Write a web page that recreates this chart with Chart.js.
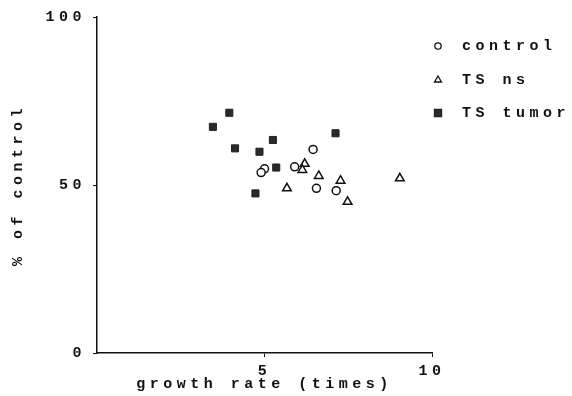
<!DOCTYPE html>
<html>
<head>
<meta charset="utf-8">
<script src="https://cdn.jsdelivr.net/npm/chart.js@4"></script>
<style>
  html, body { margin: 0; padding: 0; background: #fff; }
  #wrap { width: 572px; height: 396px; }
</style>
</head>
<body>
<div id="wrap"><canvas id="chart"></canvas></div>
<script>
// --- данные ---
const seriesLabels = ['control', 'TS ns', 'TS tumor'];

const controlX = [6.45, 5.90, 5.00, 4.90, 6.55, 7.14];
const controlY = [60.6, 55.4, 54.8, 53.7, 49.0, 48.3];

const nsX = [6.20, 6.13, 6.62, 7.27, 5.67, 7.48, 9.04];
const nsY = [56.3, 54.5, 52.7, 51.3, 49.0, 45.0, 52.0];

const tumorX = [3.95, 3.46, 4.12, 4.85, 5.25, 5.35, 4.73, 7.12];
const tumorY = [71.5, 67.3, 60.9, 59.9, 63.4, 55.2, 47.5, 65.4];

const xTicks = [5, 10];
const yTicks = [0, 50, 100];

const FONT = { family: "'Liberation Mono', 'DejaVu Sans Mono', monospace", size: 15, weight: 'bold' };
const SPACING = '4.5px';
const INK = '#111';

const toPoints = (xs, ys) => xs.map((x, i) => ({ x, y: ys[i] }));

// межбуквенный интервал, как у печатной машинки
const spacingPlugin = {
  id: 'spacing',
  beforeLayout: chart => { chart.ctx.letterSpacing = SPACING; },
  beforeDraw: chart => { chart.ctx.letterSpacing = SPACING; }
};

// легенда в столбик справа сверху
const legendPlugin = {
  id: 'sideLegend',
  afterDraw: chart => {
    const ctx = chart.ctx;
    const rows = [46, 80, 113];
    ctx.save();
    ctx.letterSpacing = SPACING;
    chart.data.datasets.forEach((ds, i) => {
      const y = rows[i];
      ctx.fillStyle = ds.backgroundColor;
      ctx.strokeStyle = ds.borderColor;
      ctx.lineWidth = 1.3;
      Chart.helpers.drawPoint(ctx, { pointStyle: ds.pointStyle, radius: ds.legendRadius, borderWidth: 1.3, rotation: 0 }, 438, y);
      ctx.fillStyle = INK;
      ctx.font = `${FONT.weight} ${FONT.size}px ${FONT.family}`;
      ctx.textBaseline = 'middle';
      ctx.textAlign = 'left';
      ctx.fillText(ds.label, 462, y);
    });
    ctx.restore();
  }
};

const datasets = [
  {
    label: seriesLabels[0],
    data: toPoints(controlX, controlY),
    pointStyle: 'circle',
    pointRadius: 4,
    legendRadius: 3.2,
    borderWidth: 1.5,
    borderColor: INK,
    backgroundColor: '#fff'
  },
  {
    label: seriesLabels[1],
    data: toPoints(nsX, nsY),
    pointStyle: 'triangle',
    pointRadius: 5,
    legendRadius: 4,
    borderWidth: 1.5,
    borderColor: INK,
    backgroundColor: '#fff'
  },
  {
    label: seriesLabels[2],
    data: toPoints(tumorX, tumorY),
    pointStyle: 'rect',
    pointRadius: 5,
    legendRadius: 5,
    borderWidth: 1,
    borderColor: '#222',
    backgroundColor: '#2a2a2a'
  }
];

new Chart(document.getElementById('chart'), {
  type: 'scatter',
  data: { datasets },
  plugins: [spacingPlugin, legendPlugin],
  options: {
    responsive: true,
    maintainAspectRatio: false,
    animation: false,
    layout: { padding: { top: 17, right: 140, bottom: 0, left: 0 } },
    plugins: {
      legend: { display: false },
      tooltip: { enabled: false }
    },
    scales: {
      x: {
        type: 'linear',
        min: 0,
        max: 10,
        afterFit: scale => { scale.height = 43; },
        afterBuildTicks: scale => { scale.ticks = xTicks.map(v => ({ value: v })); },
        border: { display: true, color: INK, width: 1.5 },
        grid: { drawOnChartArea: false, tickLength: 4, color: INK },
        ticks: { color: INK, font: FONT, padding: 5 },
        title: {
          display: true,
          text: 'growth rate (times)',
          color: INK,
          font: FONT,
          padding: { top: 0, bottom: 3 }
        }
      },
      y: {
        type: 'linear',
        min: 0,
        max: 100,
        afterFit: scale => { scale.width = 97; },
        afterBuildTicks: scale => { scale.ticks = yTicks.map(v => ({ value: v })); },
        border: { display: true, color: INK, width: 1.5 },
        grid: { drawOnChartArea: false, tickLength: 4, color: INK },
        ticks: { color: INK, font: FONT, padding: 7 },
        title: {
          display: true,
          text: '% of control',
          color: INK,
          font: FONT,
          padding: { top: 9, bottom: 0 }
        }
      }
    }
  }
});
</script>
</body>
</html>
